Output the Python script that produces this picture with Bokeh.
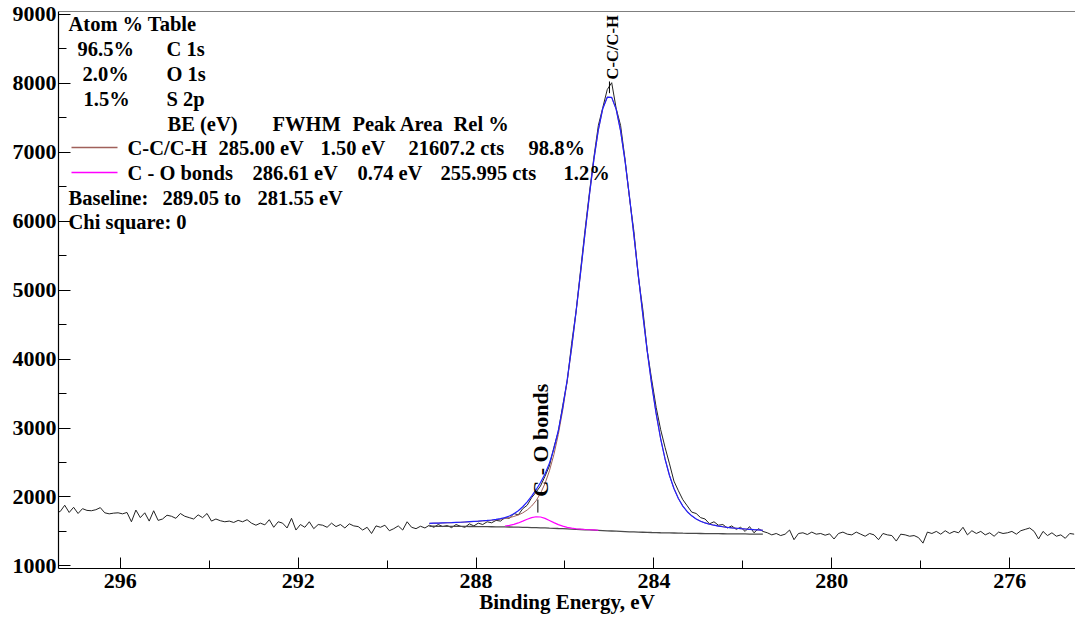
import math
from bokeh.plotting import figure
from bokeh.models import Range1d, FixedTicker, Span, Label
from bokeh.embed import file_html
from bokeh.resources import INLINE

# ---------------- data ----------------
# raw spectrum, 0.1 eV steps
raw_start = 297.45
raw_step = 0.1
counts_a = [  # 297.45 .. 289.15
    1770, 1790, 1880, 1775, 1850, 1760, 1830, 1805, 1800, 1815,
    1845, 1770, 1755, 1765, 1770, 1755, 1775, 1640, 1810, 1700,
    1770, 1650, 1800, 1660, 1680, 1735, 1720, 1690, 1760, 1720,
    1700, 1680, 1740, 1700, 1760, 1650, 1680, 1655, 1640, 1650,
    1630, 1660, 1640, 1670, 1620, 1590, 1620, 1595, 1670, 1560,
    1640, 1620, 1550, 1690, 1520, 1600, 1560, 1640, 1540, 1600,
    1590, 1560, 1620, 1570, 1600, 1550, 1610, 1580, 1570, 1520,
    1560, 1470, 1580, 1560, 1590, 1510, 1540, 1580, 1520, 1640,
    1560, 1540, 1575, 1550]
counts_b = [  # 289.05 .. 281.55
    1590, 1560, 1600, 1570, 1585, 1555, 1600, 1575, 1560, 1610,
    1580, 1620, 1600, 1640, 1625, 1660, 1650, 1700, 1690, 1760,
    1740, 1830, 1880, 1990, 2070, 2160, 2300, 2450, 2720, 2950,
    3330, 3680, 4230, 4700, 5290, 5870, 6420, 6930, 7390, 7650,
    7910, 8010, 7640, 7390, 6900, 6340, 5850, 5190, 4720, 4120,
    3700, 3300, 2980, 2720, 2480, 2230, 2090, 1960, 1870, 1780,
    1760, 1700, 1680, 1610, 1640, 1590, 1600, 1550, 1580, 1530,
    1560, 1500, 1570, 1480, 1540, 1500]
counts_c = [  # 281.45 .. 274.55
    1480, 1450, 1470, 1440, 1460, 1520, 1380, 1470, 1480, 1455,
    1490, 1460, 1470, 1445, 1465, 1390, 1470, 1490, 1460, 1450,
    1490, 1460, 1430, 1470, 1450, 1380, 1470, 1450, 1440, 1360,
    1460, 1450, 1430, 1440, 1410, 1330, 1490, 1470, 1500, 1460,
    1510, 1470, 1500, 1480, 1560, 1450, 1510, 1470, 1500, 1450,
    1480, 1430, 1490, 1470, 1480, 1500, 1460, 1510, 1530, 1550,
    1500, 1390, 1500, 1440, 1480, 1430, 1450, 1400, 1470, 1460]
assert len(counts_a) == 84 and len(counts_b) == 76 and len(counts_c) == 70
raw_counts = counts_a + counts_b + counts_c
raw_be = [round(raw_start - i * raw_step, 2) for i in range(len(raw_counts))]

# fit region 289.05 .. 281.55 eV
fit_start = 289.05
baseline = [
    1575, 1575, 1574, 1574, 1574, 1573, 1573, 1572, 1572, 1571,
    1571, 1570, 1570, 1569, 1568, 1567, 1566, 1565, 1564, 1563,
    1562, 1560, 1558, 1556, 1554, 1552, 1550, 1547, 1545, 1542,
    1540, 1537, 1534, 1531, 1528, 1524, 1521, 1518, 1515, 1512,
    1509, 1506, 1503, 1500, 1497, 1494, 1492, 1490, 1488, 1486,
    1484, 1483, 1481, 1480, 1478, 1477, 1476, 1474, 1473, 1472,
    1471, 1470, 1469, 1468, 1468, 1467, 1466, 1465, 1465, 1464,
    1463, 1463, 1462, 1461, 1461, 1460]
cc_comp = [  # C-C/C-H component above baseline
    42, 44, 46, 49, 51, 54, 57, 60, 64, 68,
    72, 77, 82, 87, 94, 102, 111, 122, 136, 154,
    177, 209, 253, 312, 392, 501, 645, 832, 1070, 1366,
    1724, 2145, 2625, 3155, 3720, 4298, 4861, 5377, 5810, 6123,
    6289, 6289, 6123, 5810, 5377, 4861, 4298, 3720, 3155, 2625,
    2145, 1724, 1366, 1070, 832, 645, 501, 392, 312, 253,
    209, 177, 154, 136, 122, 111, 102, 94, 87, 82,
    77, 72, 68, 64, 60, 57]
co_comp = [  # C - O bonds component above baseline
    1, 1, 1, 1, 1, 1, 1, 1, 1, 2,
    2, 2, 3, 3, 4, 6, 9, 14, 24, 39,
    61, 89, 118, 144, 159, 157, 139, 112, 83, 56,
    36, 22, 13, 8, 5, 4, 3, 3, 2, 2,
    2, 2, 1, 1, 1, 1, 1, 1, 1, 1,
    1, 1, 1, 1, 1, 1, 1, 1, 1, 1,
    1, 0, 0, 0, 0, 0, 0, 0, 0, 0,
    0, 0, 0, 0, 0, 0]
assert len(baseline) == 76 and len(cc_comp) == 76 and len(co_comp) == 76
fit_be = [round(fit_start - i * 0.1, 2) for i in range(len(baseline))]

peak_names = ["C-C/C-H", "C - O bonds"]
peak_be = [285.00, 286.61]

x_ticks = [296, 292, 288, 284, 280, 276]
x_minor = [294, 290, 286, 282, 278]
y_ticks = [1000, 2000, 3000, 4000, 5000, 6000, 7000, 8000, 9000]
y_minor = [1500, 2500, 3500, 4500, 5500, 6500, 7500, 8500]

atom_pct = ["96.5%", "2.0%", "1.5%"]
atom_names = ["C 1s", "O 1s", "S 2p"]

# ---------------- layout ----------------
W, H = 1075, 618
FL, FR, FT, FB = 58, 1075, 11, 568
X0, X1 = 297.39, 274.52
Y0, Y1 = 962, 9043
FONT = "Liberation Serif"
TXT = "20.5px"


def px2x(px):
    return X0 + (px - FL) / (FR - FL) * (X1 - X0)


def py2y(py):
    return Y1 - (py - FT) / (FB - FT) * (Y1 - Y0)


p = figure(width=W, height=H, x_range=Range1d(X0, X1), y_range=Range1d(Y0, Y1),
           output_backend="svg", toolbar_location=None,
           min_border_left=FL, min_border_right=0, min_border_top=FT,
           min_border_bottom=H - FB)
p.outline_line_color = None
p.xgrid.visible = False
p.ygrid.visible = False
p.background_fill_color = "white"
p.border_fill_color = "white"

for ax in (p.xaxis[0], p.yaxis[0]):
    ax.major_label_text_font = FONT
    ax.major_label_text_font_style = "bold"
    ax.major_label_text_font_size = "22px"
    ax.major_label_text_color = "black"
    ax.axis_line_color = "black"
    ax.axis_line_width = 1.2
    ax.major_tick_line_color = "black"
    ax.minor_tick_line_color = "black"
    ax.major_tick_out = 0
    ax.minor_tick_out = 0

p.yaxis.major_tick_in = 12
p.yaxis.minor_tick_in = 8
p.yaxis.major_label_standoff = 2
p.yaxis.ticker = FixedTicker(ticks=y_ticks, minor_ticks=y_minor)
p.xaxis.major_tick_in = 11
p.xaxis.minor_tick_in = 8
p.xaxis.major_label_standoff = 5
p.xaxis.ticker = FixedTicker(ticks=x_ticks, minor_ticks=x_minor)
p.xaxis.axis_label = "Binding Energy, eV"
p.xaxis.axis_label_text_font = FONT
p.xaxis.axis_label_text_font_style = "bold"
p.xaxis.axis_label_text_font_size = "21px"
p.xaxis.axis_label_text_color = "black"
p.xaxis.axis_label_standoff = -1

p.add_layout(Span(location=Y1, dimension="width", line_color="black", line_width=1.2))

# ---------------- curves ----------------
cc_line = [b + c for b, c in zip(baseline, cc_comp)]
co_line = [b + o for b, o in zip(baseline, co_comp)]
envelope = [b + c + o for b, c, o in zip(baseline, cc_comp, co_comp)]
co_idx = [i for i, e in enumerate(fit_be) if 285.2 <= e <= 287.4]

p.line(raw_be, raw_counts, line_color="#222222", line_width=1)
p.line(fit_be, baseline, line_color="#4a4a4a", line_width=1.3)
p.line(fit_be, cc_line, line_color="#a0605a", line_width=1)
p.line([fit_be[i] for i in co_idx], [co_line[i] for i in co_idx],
       line_color="#ff00ff", line_width=1.2)
p.line(fit_be, envelope, line_color="#2020ff", line_width=1.2)

# peak markers and labels
peak_tops = [max(cc_line), max(co_line)]
marker_lo = [60, 60]
marker_hi = [230, 250]
text_gap = [260, 290]
label_sizes = ["16.5px", "22px"]
p.segment(x0=peak_be, y0=[t + a for t, a in zip(peak_tops, marker_lo)], x1=peak_be,
          y1=[t + b for t, b in zip(peak_tops, marker_hi)],
          line_color="black", line_width=1)
for be, top, gap, name, size in zip(peak_be, peak_tops, text_gap, peak_names, label_sizes):
    p.add_layout(Label(x=be, y=top + gap, text=name, angle=math.pi / 2,
                       text_align="left", text_baseline="middle",
                       text_font=FONT, text_font_style="bold",
                       text_font_size=size, text_color="black", x_offset=3))

# ---------------- info block ----------------
def lab(px, py, txt, size=TXT):
    p.add_layout(Label(x=px2x(px), y=py2y(py), text=txt, text_font=FONT,
                       text_font_style="bold", text_font_size=size,
                       text_color="black", text_align="left",
                       text_baseline="middle"))


lab(68, 23, "Atom % Table")
row_y = [48, 73, 98]
pct_x = [77, 82, 83]
for yy, xx, pc, nm in zip(row_y, pct_x, atom_pct, atom_names):
    lab(xx, yy, pc)
    lab(166, yy, nm)

lab(167, 123, "BE (eV)")
lab(272, 123, "FWHM")
lab(352, 123, "Peak Area")
lab(453, 123, "Rel %")

lab(127, 147, "C-C/C-H")
lab(218, 147, "285.00 eV")
lab(320, 147, "1.50 eV")
lab(408, 147, "21607.2 cts")
lab(528, 147, "98.8%")

lab(127, 172, "C - O bonds")
lab(252, 172, "286.61 eV")
lab(357, 172, "0.74 eV")
lab(440, 172, "255.995 cts")
lab(563, 172, "1.2%")

lab(68, 197, "Baseline:")
lab(162, 197, "289.05 to")
lab(257, 197, "281.55 eV")
lab(68, 221, "Chi square: 0")

p.segment(x0=[px2x(71), px2x(71)], y0=[py2y(147), py2y(172)],
          x1=[px2x(117), px2x(117)], y1=[py2y(147), py2y(172)],
          line_color=["#a0605a", "#ff00ff"], line_width=1.3)

open("out.html", "w").write(file_html(p, INLINE))
